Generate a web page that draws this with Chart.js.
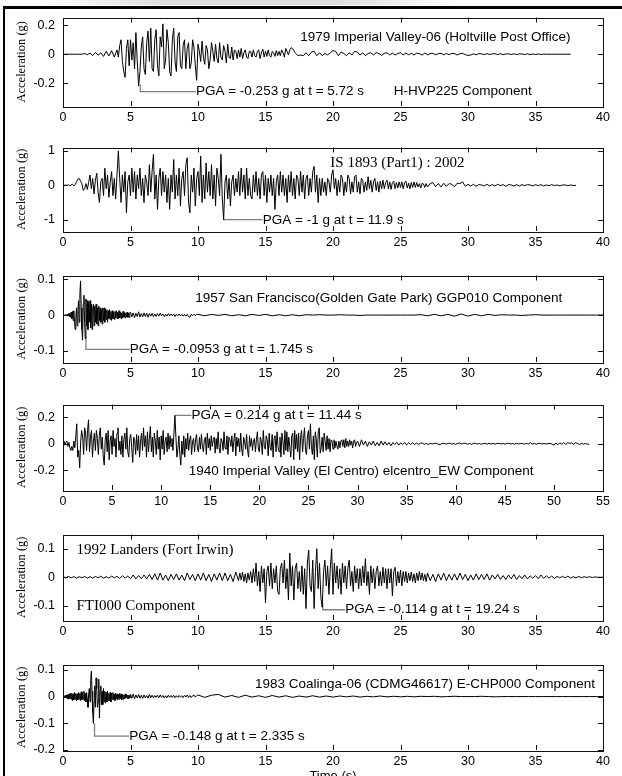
<!DOCTYPE html>
<html lang="en">
<head>
    <meta charset="UTF-8">
    <title>Ground motion records</title>
    <style>
        body {
            margin: 0;
            width: 622px;
            height: 776px;
            overflow: hidden;
            background: #fff;
            position: relative;
        }
        .panel {
            position: absolute;
            left: 0;
        }
        .frame-left {
            position: absolute;
            left: 3px; top: 6px;
            width: 2px; height: 770px;
            background: #000;
        }
        .frame-top {
            position: absolute;
            left: 3px; top: 6px;
            width: 619px; height: 3px;
            background: #000;
        }
        .shade {
            position: absolute;
            left: 40px; top: 0;
            width: 420px; height: 5px;
            background: linear-gradient(to right, #fff, #ddd 30%, #ddd 70%, #fff);
        }
    </style>
</head>
<body>
    <div class="shade"></div>
    <div class="frame-left"></div>
    <div class="frame-top"></div>

    <script src="https://cdn.jsdelivr.net/npm/chart.js"></script>

    <script>
        // tick labels
        const xTicks40 = [0, 5, 10, 15, 20, 25, 30, 35, 40];
        const xTicks55 = [0, 5, 10, 15, 20, 25, 30, 35, 40, 45, 50, 55];
        const yTicksP1 = [-0.2, 0, 0.2];
        const yTicksP2 = [-1, 0, 1];
        const yTicksP3 = [-0.1, 0, 0.1];
        const yTicksP4 = [-0.2, 0, 0.2];
        const yTicksP5 = [-0.1, 0, 0.1];
        const yTicksP6 = [-0.2, -0.1, 0, 0.1];

        // 1979 Imperial Valley-06 (g)
        // head: 0-3.8 s every 0.2 s, strong: 4.0-16.9 s every 0.1 s, tail: 17-37.6 s every 0.2 s
        const imperialHeadAcc = [
            0, 0, 0, 0, 0, 0, 0, 0, 0.005, -0.003,
            0.008, -0.01, 0.012, -0.006, 0.01, -0.015, 0.02, -0.012, 0.025, -0.02
        ];
        const imperialStrongAcc = [
            0.03, -0.02, 0.06, 0.1, -0.05, -0.12, -0.16, 0.04, 0.1, -0.08,
            0.1, -0.04, 0.08, -0.1, 0.15, -0.05, -0.22, -0.12, 0.05, 0.12,
            -0.1, -0.14, 0.08, 0.16, -0.05, 0.18, -0.1, -0.12, 0.1, 0.17,
            -0.08, -0.15, 0.12, 0.05, 0.21, -0.1, -0.04, 0.17, 0.08, -0.12,
            -0.15, 0.1, 0.18, -0.05, -0.12, 0.12, 0.15, -0.08, -0.1, 0.06,
            0.1, -0.1, 0.04, 0.08, -0.1, -0.06, 0.1, 0.05, -0.08, -0.18,
            0.07, 0.02, -0.05, 0.09, -0.02, -0.07, 0.06, 0.03, -0.1, -0.04,
            0.08, 0.02, -0.05, 0.07, -0.03, -0.06, 0.08, -0.02, -0.04, 0.06,
            0.02, -0.06, 0.07, -0.02, -0.03, 0.05, -0.04, 0.03, 0.02, -0.03,
            0.03, -0.02, 0.04, -0.03, 0.01, 0.03, -0.02, -0.03, 0.02, 0.02,
            -0.02, 0.03, -0.01, -0.02, 0.02, 0.03, -0.03, 0.01, 0.035, -0.02,
            0.02, -0.015, 0.03, -0.01, -0.02, 0.02, 0.01, -0.015, 0.025, -0.01,
            0.02, -0.01, 0.03, 0.01, -0.02, 0.04, 0.02, -0.005, 0.03, 0.045
        ];
        const imperialTailAcc = [
            0.04, 0.01, -0.01, -0.005, -0.01, 0.01, -0.01, 0.015, 0.02, -0.01,
            0.01, -0.01, 0.005, -0.005, 0.01, 0.025, 0.02, -0.01, 0.015, 0.005,
            -0.01, 0.01, -0.005, 0.02, 0.015, -0.005, 0.01, -0.01, 0.005, 0.01,
            -0.005, 0.012, 0.005, -0.008, 0.006, 0.01, -0.005, 0.008, -0.006, 0.005,
            0.01, -0.005, 0.008, -0.004, 0.006, -0.005, 0.007, 0.004, -0.006, 0.008,
            -0.004, 0.005, 0.006, -0.004, 0.004, 0.006, -0.004, 0.005, -0.003, 0.006,
            0.004, -0.005, 0.003, 0.006, -0.003, -0.008, -0.006, 0.003, -0.004, 0.004,
            0.003, -0.003, 0.004, -0.002, 0.003, 0.003, -0.002, 0.004, -0.003, 0.002,
            0.003, -0.002, 0.003, -0.002, 0.002, 0.002, -0.002, 0.003, -0.003, 0.002,
            -0.002, 0.002, -0.002, 0.001, 0, 0, 0, 0, 0, 0,
            0, 0, 0, 0
        ];

        // IS 1893 compatible record (g): 0-26.9 s every 0.1 s, 27-38 s every 0.2 s
        const isStrongAcc = [
            0, 0, 0.01, -0.01, 0.02, -0.02, 0.01, 0.03, -0.02, 0.02,
            0.1, 0.18, 0.2, 0.12, 0.05, -0.15, -0.1, 0.05, -0.12, 0.08,
            0.3, -0.1, 0.2, -0.25, 0.15, 0.35, -0.2, -0.5, 0.1, 0.2,
            -0.3, 0.5, -0.1, 0.3, -0.35, 0.1, 0.4, -0.3, 0.2, -0.4,
            0.3, 1.0, 0.2, -0.5, 0.3, -0.2, 0.4, -0.8, 0.1, 0.3,
            -0.3, 0.5, -0.2, 0.4, -0.4, 0.3, -0.1, 0.5, -0.3, 0.2,
            -0.5, 0.3, 0.1, -0.3, 0.6, -0.2, 0.4, 0.9, -0.4, 0.3,
            -0.7, 0.2, 0.5, -0.3, 0.4, -0.2, 0.3, -0.5, 0.2, -0.7,
            0.3, -0.2, 0.75, -0.4, 0.3, -0.3, 0.5, -0.6, 0.2, 0.4,
            -0.3, 0.6, 0.8, -0.5, -0.8, 0.3, -0.2, 0.5, -0.6, 0.2,
            0.4, -0.3, 0.85, -0.5, 0.3, -0.4, 0.65, -0.2, 0.4, -0.3,
            0.6, -0.4, 0.3, -0.6, 0.5, 0.2, -0.3, 0.9, -0.4, -1.0,
            0.1, 0.3, -0.4, 0.2, -0.6, 0.1, 0.3, -0.3, 0.2, -0.2,
            0.4, -0.3, 0.5, -0.2, 0.3, -0.4, 0.5, -0.3, 0.2, -0.3,
            -0.4, 0.3, -0.2, 0.4, -0.3, 0.2, -0.4, 0.3, 0.4, -0.3,
            0.3, -0.5, 0.2, -0.2, 0.3, -0.3, 0.2, -0.7, 0.1, 0.3,
            -0.3, 0.4, -0.2, 0.3, -0.3, 0.2, -0.5, 0.3, -0.2, 0.4,
            -0.3, 0.2, -0.4, 0.3, 0.2, -0.3, 0.4, -0.2, 0.3, -0.4,
            0.2, 0.3, -0.3, 0.2, -0.2, 0.4, 0.55, -0.2, 0.3, -0.5,
            0.2, -0.3, 0.2, -0.2, 0.1, -0.3, 0.2, 0.1, -0.2, 0.3,
            0.45, -0.1, 0.2, -0.3, 0.15, -0.2, 0.3, 0.2, -0.3, 0.1,
            -0.2, 0.3, 0.2, -0.25, 0.1, -0.2, 0.25, 0.3, -0.2, 0.1,
            -0.25, 0.2, 0.15, -0.2, 0.1, -0.15, 0.25, -0.1, 0.15, -0.2,
            0.1, 0.2, -0.15, 0.1, -0.2, 0.12, -0.1, 0.15, -0.1, 0.08,
            0.15, -0.1, 0.1, -0.12, 0.08, 0.12, -0.1, 0.08, -0.08, 0.1,
            -0.06, 0.1, -0.1, 0.08, 0.12, -0.08, 0.06, -0.1, 0.08, -0.06,
            0.1, -0.06, 0.08, -0.05, 0.05, -0.08, 0.06, 0.04, -0.06, 0.05
        ];
        const isTailAcc = [
            -0.05, 0.05, 0.08, -0.04, 0.05, -0.05, 0.06, -0.03, 0.05, 0.03,
            -0.04, 0.06, 0.05, 0.1, -0.03, 0.03, -0.02, 0.03, -0.03, 0.02,
            0.01, -0.02, 0.03, -0.02, 0.02, -0.02, 0.03, -0.01, 0.02, -0.03,
            0.02, 0.01, -0.02, 0.02, -0.02, 0.02, -0.01, 0.02, 0.01, -0.02,
            0.02, -0.01, 0.02, -0.02, 0.01, -0.01, 0.02, -0.01, 0.01, -0.02,
            0.01, 0.01, -0.01, 0.01, -0.005, 0
        ];

        // 1957 San Francisco (g): 0-4.95 s every 0.05 s, 5-9.9 s every 0.1 s, 10-40 s every 0.5 s
        const sfBurstAcc = [
            0, 0, 0, 0, 0, 0, 0.002, -0.003, 0.004, -0.004,
            0.005, -0.006, 0.008, -0.01, 0.01, -0.015, 0.012, -0.02, -0.04, -0.01,
            0.02, -0.03, 0.01, 0.04, -0.02, 0.06, 0.095, 0.02, -0.04, -0.07,
            0.03, 0.055, -0.02, -0.065, 0.045, -0.03, 0.04, -0.04, 0.035, -0.02,
            0.04, -0.035, 0.03, -0.04, 0.02, 0.03, -0.03, 0.025, -0.02, 0.03,
            -0.025, 0.02, -0.03, 0.025, -0.015, 0.02, -0.02, 0.015, -0.025, 0.02,
            -0.015, 0.02, -0.02, 0.015, -0.012, 0.015, -0.02, 0.012, -0.01, 0.015,
            -0.012, 0.01, -0.015, 0.012, -0.01, 0.008, -0.012, 0.01, -0.008, 0.012,
            -0.01, 0.008, -0.01, 0.012, -0.008, 0.008, -0.01, 0.006, -0.008, 0.01,
            -0.006, 0.007, -0.008, 0.006, -0.005, 0.008, -0.006, 0.005, -0.007, 0.006
        ];
        const sfMidAcc = [
            0.008, -0.005, 0.006, -0.007, 0.005, -0.004, 0.009, -0.005, 0.004, -0.005,
            0.006, -0.004, 0.005, -0.006, 0.004, -0.003, 0.005, -0.004, 0.003, -0.004,
            0.004, -0.003, 0.005, -0.002, 0.003, -0.004, 0.002, -0.003, 0.004, -0.002,
            0.003, -0.002, 0.003, -0.004, 0.002, -0.002, 0.003, -0.002, 0.002, -0.003,
            0.002, -0.003, 0.002, -0.004, -0.006, 0.002, -0.002, 0.002, -0.001, 0.002
        ];
        const sfTailAcc = [
            0.002, -0.002, 0.002, -0.001, 0.002, -0.002, 0.001, -0.002, 0.002, -0.001,
            0.002, -0.002, 0.001, -0.002, 0.001, -0.002, 0.001, 0, 0.001, 0,
            0, 0.001, 0, 0, -0.001, 0, 0, 0, 0, 0,
            0, 0, 0, 0.001, -0.002, 0.002, -0.002, 0.002, -0.003, 0.003,
            -0.003, 0.002, -0.002, 0.002, -0.001, 0.001, 0, 0, -0.001, 0,
            0.001, 0, 0, 0, 0, 0, 0, 0, 0, 0, 0
        ];

        // 1940 El Centro EW (g): 0-29.9 s every 0.1 s, 30-53.6 s every 0.2 s
        const elcentroStrongAcc = [
            0.01, 0.02, -0.01, 0.01, 0.02, -0.02, 0.01, -0.03, -0.05, -0.02,
            -0.05, 0.02, -0.03, 0.05, 0.15, -0.1, -0.05, -0.18, 0.02, 0.1,
            0.05, -0.08, 0.12, 0.08, -0.05, 0.1, 0.18, -0.06, 0.05, 0.1,
            -0.1, 0.02, 0.08, -0.05, 0.1, 0.04, -0.08, 0.06, 0.12, -0.04,
            0.05, -0.1, -0.16, 0.03, 0.08, -0.06, 0.1, -0.12, 0.02, 0.06,
            -0.08, 0.1, -0.02, 0.04, -0.1, 0.08, 0.12, -0.05, 0.02, -0.08,
            0.06, -0.1, 0.03, 0.08, -0.04, 0.12, -0.06, -0.1, 0.04, 0.07,
            -0.03, -0.14, 0.05, 0.03, -0.08, 0.07, -0.05, 0.06, -0.1, 0.02,
            0.08, -0.05, 0.12, -0.02, 0.06, -0.1, 0.09, -0.06, 0.04, 0.13,
            -0.06, 0.05, -0.1, 0.08, 0.02, -0.08, 0.1, -0.04, 0.05, -0.12,
            0.06, -0.04, 0.1, -0.08, 0.02, 0.05, -0.06, 0.08, -0.04, 0.06,
            -0.02, 0.04, -0.05, 0.08, 0.214, 0.05, -0.1, -0.04, 0.06, -0.08,
            -0.16, 0.02, -0.08, 0.06, -0.1, 0.04, -0.04, 0.08, -0.05, 0.03,
            0.06, -0.08, 0.02, 0.04, -0.06, 0.03, 0.07, -0.04, -0.06, 0.05,
            -0.04, 0.07, -0.02, -0.06, 0.03, 0.05, -0.08, 0.08, -0.03, 0.04,
            -0.05, 0.06, -0.02, 0.03, 0.05, -0.07, 0.04, -0.04, 0.09, -0.03,
            -0.07, 0.04, 0.02, -0.05, 0.09, -0.03, -0.04, 0.06, -0.08, 0.05,
            0.03, -0.02, 0.06, -0.06, 0.02, 0.08, -0.09, 0.05, -0.02, 0.04,
            -0.06, 0.08, -0.04, -0.09, 0.05, 0.02, -0.04, 0.07, -0.05, -0.1,
            0.06, -0.02, 0.04, -0.05, 0.02, 0.04, -0.06, 0.03, 0.09, -0.04,
            -0.06, 0.05, 0.02, -0.08, 0.1, -0.02, -0.04, 0.06, 0.03, -0.09,
            0.08, -0.03, -0.05, 0.07, -0.1, 0.04, 0.06, -0.06, 0.09, -0.02,
            -0.06, 0.05, -0.1, 0.08, 0.02, -0.08, 0.1, -0.05, 0.09, -0.06,
            0.05, -0.03, -0.1, 0.06, 0.08, -0.12, 0.1, -0.04, 0.07, -0.06,
            0.08, -0.12, 0.05, 0.1, -0.06, 0.04, 0.12, -0.05, -0.08, 0.06,
            0.1, -0.04, 0.15, -0.02, -0.08, 0.06, -0.12, 0.09, 0.03, -0.1,
            0.09, 0.12, -0.07, -0.03, 0.05, -0.06, 0.08, 0.02, -0.05, 0.06,
            -0.04, 0.04, -0.06, 0.03, 0.02, -0.04, 0.03, -0.03, 0.02, -0.02,
            -0.04, 0.02, -0.03, 0.02, 0.03, -0.02, 0.03, -0.03, 0.04, -0.02,
            0.02, -0.02, 0.03, -0.01, 0.02, -0.03, 0.02, 0.03, -0.02, 0.01
        ];
        const elcentroTailAcc = [
            0.02, -0.02, 0.03, -0.01, 0.02, -0.02, 0.015, -0.01, 0.02, -0.015,
            0.01, -0.015, 0.02, -0.01, 0.015, -0.01, 0.01, -0.015, 0.01, -0.005,
            0.01, -0.01, 0.008, -0.005, 0.01, -0.008, 0.006, -0.005, 0.008, -0.006,
            0.006, -0.005, 0.004, 0.006, -0.004, 0.003, -0.006, 0.004, -0.002, 0.003,
            0.005, -0.003, -0.006, 0.002, 0.004, -0.003, 0.002, 0.005, -0.003, 0.002,
            -0.004, 0.003, 0.005, -0.002, 0.003, 0.004, -0.003, 0.002, -0.004, 0.003,
            0.004, -0.002, 0.003, -0.004, 0.002, 0.003, -0.003, 0.004, -0.002, 0.003,
            -0.003, 0.002, 0.004, -0.002, 0.003, -0.003, 0.002, 0.004, -0.002, 0.003,
            -0.003, 0.004, -0.002, 0.003, 0.002, -0.003, 0.004, -0.002, 0.008, -0.002,
            0.003, -0.003, 0.002, 0.004, -0.002, 0.003, -0.003, 0.002, 0.003, -0.002,
            -0.01, 0.006, -0.008, 0.008, -0.004, 0.01, -0.006, 0.008, 0.004, 0.006,
            -0.004, 0.008, 0.002, -0.005, 0.004, -0.003, 0.002, -0.002, -0.004
        ];

        // 1992 Landers FTI000 (g): 0-12.8 s every 0.2 s, 13-26.9 s every 0.1 s, 27-40 s every 0.2 s
        const landersHeadAcc = [
            0.002, -0.002, 0.003, -0.002, 0.002, -0.003, 0.002, -0.002, 0.003, -0.003,
            0.002, -0.003, 0.003, -0.002, 0.004, -0.003, 0.002, -0.003, 0.004, -0.002,
            0.003, -0.004, 0.005, -0.003, 0.004, -0.005, 0.008, -0.006, 0.006, -0.005,
            0.008, -0.006, 0.01, -0.008, 0.012, -0.01, 0.015, -0.01, 0.008, -0.012,
            0.01, -0.008, 0.012, -0.01, 0.008, -0.012, 0.015, -0.008, 0.01, -0.012,
            0.012, -0.01, 0.015, -0.012, 0.01, -0.015, 0.012, -0.01, 0.015, -0.012,
            0.015, -0.012, 0.01, -0.015, 0.018
        ];
        const landersStrongAcc = [
            -0.012, 0.015, -0.01, 0.018, -0.015, 0.012, -0.02, 0.015, -0.01, 0.02,
            -0.02, 0.03, -0.015, 0.05, -0.03, 0.02, -0.05, 0.04, -0.02, 0.03,
            -0.09, 0.02, 0.04, -0.03, 0.05, -0.04, 0.03, -0.02, 0.04, -0.05,
            -0.06, 0.03, 0.05, -0.02, 0.06, -0.04, 0.03, -0.08, 0.085, -0.03,
            0.04, -0.08, 0.03, 0.05, -0.04, 0.02, -0.05, 0.04, -0.06, 0.03,
            -0.11, 0.05, 0.095, -0.03, -0.05, 0.06, -0.11, 0.02, 0.1, -0.04,
            0.05, -0.07, -0.105, 0.02, 0.06, -0.03, 0.04, -0.06, 0.03, 0.1,
            -0.06, 0.05, -0.02, 0.04, -0.04, 0.03, -0.06, 0.05, -0.02, 0.04,
            -0.04, 0.03, 0.06, -0.03, 0.02, -0.05, 0.04, -0.02, 0.03, -0.04,
            0.03, -0.03, 0.04, -0.02, 0.065, -0.03, 0.02, -0.06, 0.04, -0.02,
            0.03, -0.04, 0.02, 0.04, -0.03, 0.02, -0.03, 0.035, -0.02, 0.03,
            -0.04, 0.03, -0.02, 0.03, -0.065, 0.02, 0.035, -0.03, 0.02, -0.02,
            0.025, -0.03, 0.02, -0.015, 0.02, -0.02, 0.015, -0.012, 0.018, -0.015,
            0.012, -0.02, 0.015, -0.012, 0.02, -0.01, 0.015, -0.012, 0.01, -0.015
        ];
        const landersTailAcc = [
            0.015, -0.012, 0.01, -0.015, 0.012, -0.01, 0.015, -0.012, 0.01, -0.01,
            0.012, -0.01, 0.015, -0.008, 0.01, -0.012, 0.008, -0.01, 0.012, -0.008,
            0.01, -0.008, 0.012, -0.01, 0.008, -0.006, 0.01, -0.008, 0.006, -0.008,
            0.008, -0.006, 0.01, -0.008, 0.006, -0.005, 0.008, -0.006, 0.005, -0.004,
            0.006, -0.005, 0.008, -0.004, 0.005, -0.003, 0.004, -0.004, 0.003, -0.002,
            0.003, -0.002, 0.004, -0.003, 0.002, -0.002, 0.003, -0.002, 0.002, -0.001,
            0.002, -0.001, 0.001, 0, 0, 0
        ];

        // 1983 Coalinga-06 (g): 0-4.95 s every 0.05 s, 5-9.9 s every 0.1 s, 10-40 s every 0.5 s
        const coalingaBurstAcc = [
            0, 0.002, -0.003, 0.004, -0.005, 0.006, -0.008, 0.008, -0.01, 0.01,
            -0.008, 0.012, -0.01, 0.012, -0.015, 0.01, -0.012, 0.015, -0.01, 0.012,
            -0.015, 0.01, -0.012, 0.015, -0.01, 0.012, -0.015, 0.018, -0.012, 0.015,
            -0.01, 0.02, -0.015, 0.012, -0.02, 0.015, -0.01, -0.04, 0.01, 0.03,
            -0.02, 0.06, 0.095, 0.02, -0.06, -0.1, -0.02, 0.04, -0.04, 0.07,
            0.03, -0.04, -0.02, 0.065, -0.08, 0.02, 0.04, -0.03, 0.02, -0.03,
            0.03, -0.02, 0.02, -0.025, 0.015, -0.02, 0.02, -0.015, 0.012, -0.015,
            0.015, -0.02, 0.012, -0.01, 0.015, -0.012, 0.01, -0.015, 0.012, -0.01,
            0.01, -0.012, 0.008, -0.01, 0.012, -0.008, 0.01, -0.012, 0.008, -0.01,
            0.006, -0.008, 0.01, -0.006, 0.008, -0.007, 0.006, -0.008, 0.005, -0.006
        ];
        const coalingaMidAcc = [
            0.008, -0.006, 0.01, -0.008, 0.006, -0.005, 0.008, -0.006, 0.005, -0.007,
            0.006, -0.005, 0.004, -0.006, 0.008, -0.004, 0.005, -0.005, 0.004, -0.003,
            0.005, -0.004, 0.006, -0.003, 0.004, -0.005, 0.003, -0.004, 0.005, -0.003,
            0.004, -0.003, 0.005, -0.004, 0.003, -0.003, 0.004, -0.002, 0.003, -0.004,
            0.005, -0.002, 0.006, -0.003, 0.004, -0.004, 0.003, 0.006, -0.002, 0.003
        ];
        const coalingaTailAcc = [
            0.006, -0.003, 0.005, 0.008, -0.002, 0.004, -0.003, 0.005, -0.002, 0.003,
            -0.003, 0.004, -0.002, 0.003, -0.003, 0.002, -0.002, 0.003, -0.002, 0.002,
            -0.002, 0.002, -0.001, 0.002, -0.002, 0.001, -0.001, 0.002, -0.001, 0.001,
            -0.001, 0.001, -0.001, 0.001, 0, 0.001, -0.001, 0, 0.001, 0,
            0, 0, 0.001, 0, -0.001, 0, 0, 0, 0, 0,
            0, 0, 0, 0, 0, 0, 0, 0, 0, 0, 0
        ];

        // PGA leader lines [t, a]
        const imperialPga = [[5.72, -0.21], [5.72, -0.258], [9.85, -0.258]];
        const isPga = [[11.9, -1.0], [14.8, -1.0]];
        const sfPga = [[1.7, -0.06], [1.7, -0.0953], [4.95, -0.0953]];
        const elcentroPga = [[11.44, 0.214], [13.1, 0.214]];
        const landersPga = [[19.24, -0.09], [19.24, -0.114], [20.9, -0.114]];
        const coalingaPga = [[2.335, -0.1], [2.335, -0.148], [4.9, -0.148]];

        const SANS = '"Liberation Sans", Arial, sans-serif';
        const SERIF = '"Liberation Serif", "Times New Roman", serif';
        const NOTE = '13.5px ' + SANS;
        const NOTE_SERIF = '15px ' + SERIF;

        function toPoints(acc, t0, dt) {
            return acc.map((a, i) => ({ x: +(t0 + i * dt).toFixed(3), y: a }));
        }

        function pairsToPoints(pairs) {
            return pairs.map(p => ({ x: p[0], y: p[1] }));
        }

        // frame, inward ticks, axis title and text notes
        function decoPlugin(cfg) {
            return {
                id: 'deco',
                afterDatasetsDraw(chart) {
                    const { ctx, chartArea: a, scales } = chart;
                    const tick = 5;
                    ctx.save();
                    ctx.strokeStyle = '#111';
                    ctx.lineWidth = 1;
                    ctx.strokeRect(Math.round(a.left) + 0.5, Math.round(a.top) + 0.5,
                        Math.round(a.right - a.left), Math.round(a.bottom - a.top));
                    ctx.beginPath();
                    cfg.xTicks.forEach(v => {
                        const px = Math.round(scales.x.getPixelForValue(v)) + 0.5;
                        if (v === cfg.xTicks[0] || v === cfg.xMax) return;
                        ctx.moveTo(px, a.bottom); ctx.lineTo(px, a.bottom - tick);
                        ctx.moveTo(px, a.top); ctx.lineTo(px, a.top + tick);
                    });
                    cfg.yTicks.forEach(v => {
                        const py = Math.round(scales.y.getPixelForValue(v)) + 0.5;
                        ctx.moveTo(a.left, py); ctx.lineTo(a.left + tick, py);
                        ctx.moveTo(a.right, py); ctx.lineTo(a.right - tick, py);
                    });
                    ctx.stroke();

                    // y axis title
                    ctx.fillStyle = '#000';
                    ctx.font = '12.5px ' + SERIF;
                    ctx.textAlign = 'center';
                    ctx.textBaseline = 'middle';
                    ctx.translate(22, (a.top + a.bottom) / 2);
                    ctx.rotate(-Math.PI / 2);
                    ctx.fillText('Acceleration (g)', 0, 0);
                    ctx.setTransform(1, 0, 0, 1, 0, 0);

                    cfg.notes.forEach(n => {
                        ctx.font = n.font;
                        ctx.textAlign = n.align || 'left';
                        ctx.textBaseline = 'middle';
                        ctx.fillText(n.text, scales.x.getPixelForValue(n.x), scales.y.getPixelForValue(n.y));
                    });

                    if (cfg.xTitle) {
                        ctx.font = '13px ' + SANS;
                        ctx.textAlign = 'center';
                        ctx.textBaseline = 'top';
                        ctx.fillText(cfg.xTitle, scales.x.getPixelForValue(20), a.bottom + 20);
                    }
                    ctx.restore();
                }
            };
        }

        function makePanel(cfg) {
            const padTop = 10;
            const xAxisH = cfg.xAxisH || 24;
            const canvasH = cfg.plotH + padTop + xAxisH;
            const div = document.createElement('div');
            div.className = 'panel';
            div.style.top = (cfg.plotTop - padTop) + 'px';
            const canvas = document.createElement('canvas');
            canvas.width = 622;
            canvas.height = canvasH;
            canvas.style.width = '622px';
            canvas.style.height = canvasH + 'px';
            div.appendChild(canvas);
            document.body.appendChild(div);

            new Chart(canvas, {
                type: 'line',
                data: {
                    datasets: [
                        {
                            data: cfg.trace,
                            borderColor: '#000',
                            borderWidth: 1,
                            pointRadius: 0,
                            tension: 0,
                            fill: false
                        },
                        {
                            data: pairsToPoints(cfg.pga),
                            borderColor: '#7f7f7f',
                            borderWidth: 1.3,
                            pointRadius: 0,
                            tension: 0,
                            fill: false
                        }
                    ]
                },
                options: {
                    responsive: false,
                    animation: false,
                    devicePixelRatio: 1,
                    layout: { padding: { top: padTop, right: 19, left: 0, bottom: 0 } },
                    plugins: { legend: { display: false }, tooltip: { enabled: false } },
                    scales: {
                        x: {
                            type: 'linear',
                            min: 0,
                            max: cfg.xMax,
                            grid: { display: false, drawTicks: false },
                            border: { display: false },
                            ticks: {
                                padding: 4,
                                maxRotation: 0,
                                color: '#000',
                                font: { family: SANS, size: 12.5 },
                                callback: v => String(v)
                            },
                            afterBuildTicks: s => { s.ticks = cfg.xTicks.map(v => ({ value: v })); },
                            afterFit: s => { s.height = xAxisH; }
                        },
                        y: {
                            min: cfg.yMin,
                            max: cfg.yMax,
                            grid: { display: false, drawTicks: false },
                            border: { display: false },
                            ticks: {
                                padding: 8,
                                color: '#000',
                                font: { family: SANS, size: 12.5 },
                                callback: v => String(+v.toFixed(3))
                            },
                            afterBuildTicks: s => { s.ticks = cfg.yTicks.map(v => ({ value: v })); },
                            afterFit: s => { s.width = 63; }
                        }
                    }
                },
                plugins: [decoPlugin(cfg)]
            });
        }

        makePanel({
            plotTop: 12, plotH: 94, xMax: 40, yMin: -0.358, yMax: 0.254,
            xTicks: xTicks40, yTicks: yTicksP1,
            trace: toPoints(imperialHeadAcc, 0, 0.2)
                .concat(toPoints(imperialStrongAcc, 4, 0.1))
                .concat(toPoints(imperialTailAcc, 17, 0.2)),
            pga: imperialPga,
            notes: [
                { text: '1979 Imperial Valley-06 (Holtville Post Office)', x: 37.6, y: 0.115, align: 'right', font: NOTE },
                { text: 'PGA = -0.253 g at t = 5.72 s', x: 9.85, y: -0.258, font: NOTE },
                { text: 'H-HVP225 Component', x: 24.5, y: -0.258, font: NOTE }
            ]
        });

        makePanel({
            plotTop: 142, plotH: 89, xMax: 40, yMin: -1.33, yMax: 1.1,
            xTicks: xTicks40, yTicks: yTicksP2,
            trace: toPoints(isStrongAcc, 0, 0.1).concat(toPoints(isTailAcc, 27, 0.2)),
            pga: isPga,
            notes: [
                { text: 'IS 1893 (Part1) : 2002', x: 19.8, y: 0.65, font: NOTE_SERIF },
                { text: 'PGA = -1 g at t = 11.9 s', x: 14.8, y: -1.02, font: NOTE }
            ]
        });

        makePanel({
            plotTop: 270, plotH: 92, xMax: 40, yMin: -0.1305, yMax: 0.11,
            xTicks: xTicks40, yTicks: yTicksP3,
            trace: toPoints(sfBurstAcc, 0, 0.05)
                .concat(toPoints(sfMidAcc, 5, 0.1))
                .concat(toPoints(sfTailAcc, 10, 0.5)),
            pga: sfPga,
            notes: [
                { text: '1957 San Francisco(Golden Gate Park) GGP010 Component', x: 9.8, y: 0.046, font: NOTE },
                { text: 'PGA = -0.0953 g at t = 1.745 s', x: 4.95, y: -0.0953, font: NOTE }
            ]
        });

        makePanel({
            plotTop: 399, plotH: 91, xMax: 55, yMin: -0.347, yMax: 0.295,
            xTicks: xTicks55, yTicks: yTicksP4,
            trace: toPoints(elcentroStrongAcc, 0, 0.1).concat(toPoints(elcentroTailAcc, 30, 0.2)),
            pga: elcentroPga,
            notes: [
                { text: '1940 Imperial Valley (El Centro) elcentro_EW Component', x: 12.8, y: -0.21, font: NOTE },
                { text: 'PGA = 0.214 g at t = 11.44 s', x: 13.1, y: 0.214, font: NOTE }
            ]
        });

        makePanel({
            plotTop: 529, plotH: 91, xMax: 40, yMin: -0.15, yMax: 0.15,
            xTicks: xTicks40, yTicks: yTicksP5,
            trace: toPoints(landersHeadAcc, 0, 0.2)
                .concat(toPoints(landersStrongAcc, 13, 0.1))
                .concat(toPoints(landersTailAcc, 27, 0.2)),
            pga: landersPga,
            notes: [
                { text: '1992 Landers (Fort Irwin)', x: 1.0, y: 0.097, font: NOTE_SERIF },
                { text: 'FTI000 Component', x: 1.0, y: -0.1, font: NOTE_SERIF },
                { text: 'PGA = -0.114 g at t = 19.24 s', x: 20.9, y: -0.114, font: NOTE }
            ]
        });

        makePanel({
            plotTop: 659, plotH: 91, xMax: 40, yMin: -0.2, yMax: 0.12,
            xTicks: xTicks40, yTicks: yTicksP6, xAxisH: 26, xTitle: 'Time (s)',
            trace: toPoints(coalingaBurstAcc, 0, 0.05)
                .concat(toPoints(coalingaMidAcc, 5, 0.1))
                .concat(toPoints(coalingaTailAcc, 10, 0.5)),
            pga: coalingaPga,
            notes: [
                { text: '1983 Coalinga-06 (CDMG46617) E-CHP000 Component', x: 39.4, y: 0.045, align: 'right', font: NOTE },
                { text: 'PGA = -0.148 g at t = 2.335 s', x: 4.9, y: -0.148, font: NOTE }
            ]
        });
    </script>
</body>
</html>
